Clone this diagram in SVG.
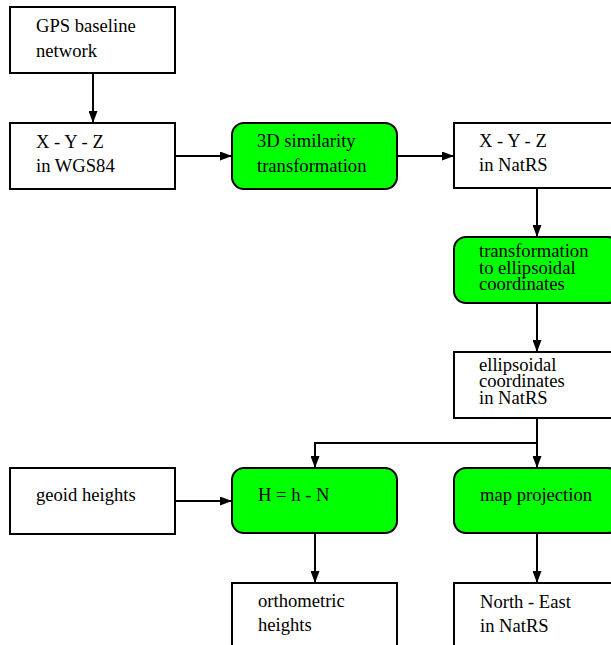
<svg xmlns="http://www.w3.org/2000/svg" width="611" height="645" viewBox="0 0 611 645">
<defs>
<marker id="ah" markerWidth="12" markerHeight="9" refX="12" refY="4.5" orient="auto" markerUnits="userSpaceOnUse">
<path d="M0,0 L12,4.5 L0,9 Z" fill="#000"/>
</marker>
<style>
.box{fill:#fff;stroke:#000;stroke-width:2}
.proc{fill:#00ff00;stroke:#000;stroke-width:2}
.t{font-family:"Liberation Serif","Times New Roman",serif;font-size:18.6px;fill:#000}
.c{fill:none;stroke:#000;stroke-width:2;marker-end:url(#ah)}
</style>
</defs>
<rect width="611" height="645" fill="#fff"/>
<g id="gps"><rect class="box" x="10" y="7" width="165" height="66"/><text class="t" x="36" y="32">GPS baseline</text><text class="t" x="36" y="57">network</text></g>
<g id="wgs84"><rect class="box" x="10" y="123" width="165" height="66"/><text class="t" x="36" y="148">X - Y - Z</text><text class="t" x="36" y="172">in WGS84</text></g>
<g id="sim"><rect class="proc" x="232" y="123" width="165" height="66" rx="12"/><text class="t" x="257" y="147">3D similarity</text><text class="t" x="257" y="172">transformation</text></g>
<g id="natrs"><rect class="box" x="454" y="123" width="166" height="65"/><text class="t" x="479" y="147">X - Y - Z</text><text class="t" x="479" y="171">in NatRS</text></g>
<g id="toell"><rect class="proc" x="454" y="237" width="166" height="66" rx="12"/><text class="t" x="479" y="257">transformation</text><text class="t" x="479" y="274">to ellipsoidal</text><text class="t" x="479" y="290">coordinates</text></g>
<g id="ell"><rect class="box" x="454" y="352" width="166" height="66"/><text class="t" x="479" y="371">ellipsoidal</text><text class="t" x="479" y="387">coordinates</text><text class="t" x="479" y="404">in NatRS</text></g>
<g id="geoid"><rect class="box" x="10" y="468" width="165" height="66"/><text class="t" x="36" y="501">geoid heights</text></g>
<g id="hhn"><rect class="proc" x="232" y="468" width="165" height="65" rx="12"/><text class="t" x="258" y="501">H = h - N</text></g>
<g id="mapproj"><rect class="proc" x="454" y="468" width="166" height="65" rx="12"/><text class="t" x="480" y="501">map projection</text></g>
<g id="ortho"><rect class="box" x="232" y="583" width="165" height="70"/><text class="t" x="258" y="607">orthometric</text><text class="t" x="258" y="631">heights</text></g>
<g id="ne"><rect class="box" x="454" y="583" width="166" height="70"/><text class="t" x="480" y="608">North - East</text><text class="t" x="480" y="632">in NatRS</text></g>
<g id="connectors">
<path class="c" d="M93,73 V123"/>
<path class="c" d="M175,156 H232"/>
<path class="c" d="M397,156 H454"/>
<path class="c" d="M537,188 V237"/>
<path class="c" d="M537,303 V352"/>
<path class="c" d="M537,418 V443 H315 V468"/>
<path class="c" d="M537,443 V468"/>
<path class="c" d="M175,501 H232"/>
<path class="c" d="M315,533 V583"/>
<path class="c" d="M537,533 V583"/>
</g>
</svg>
